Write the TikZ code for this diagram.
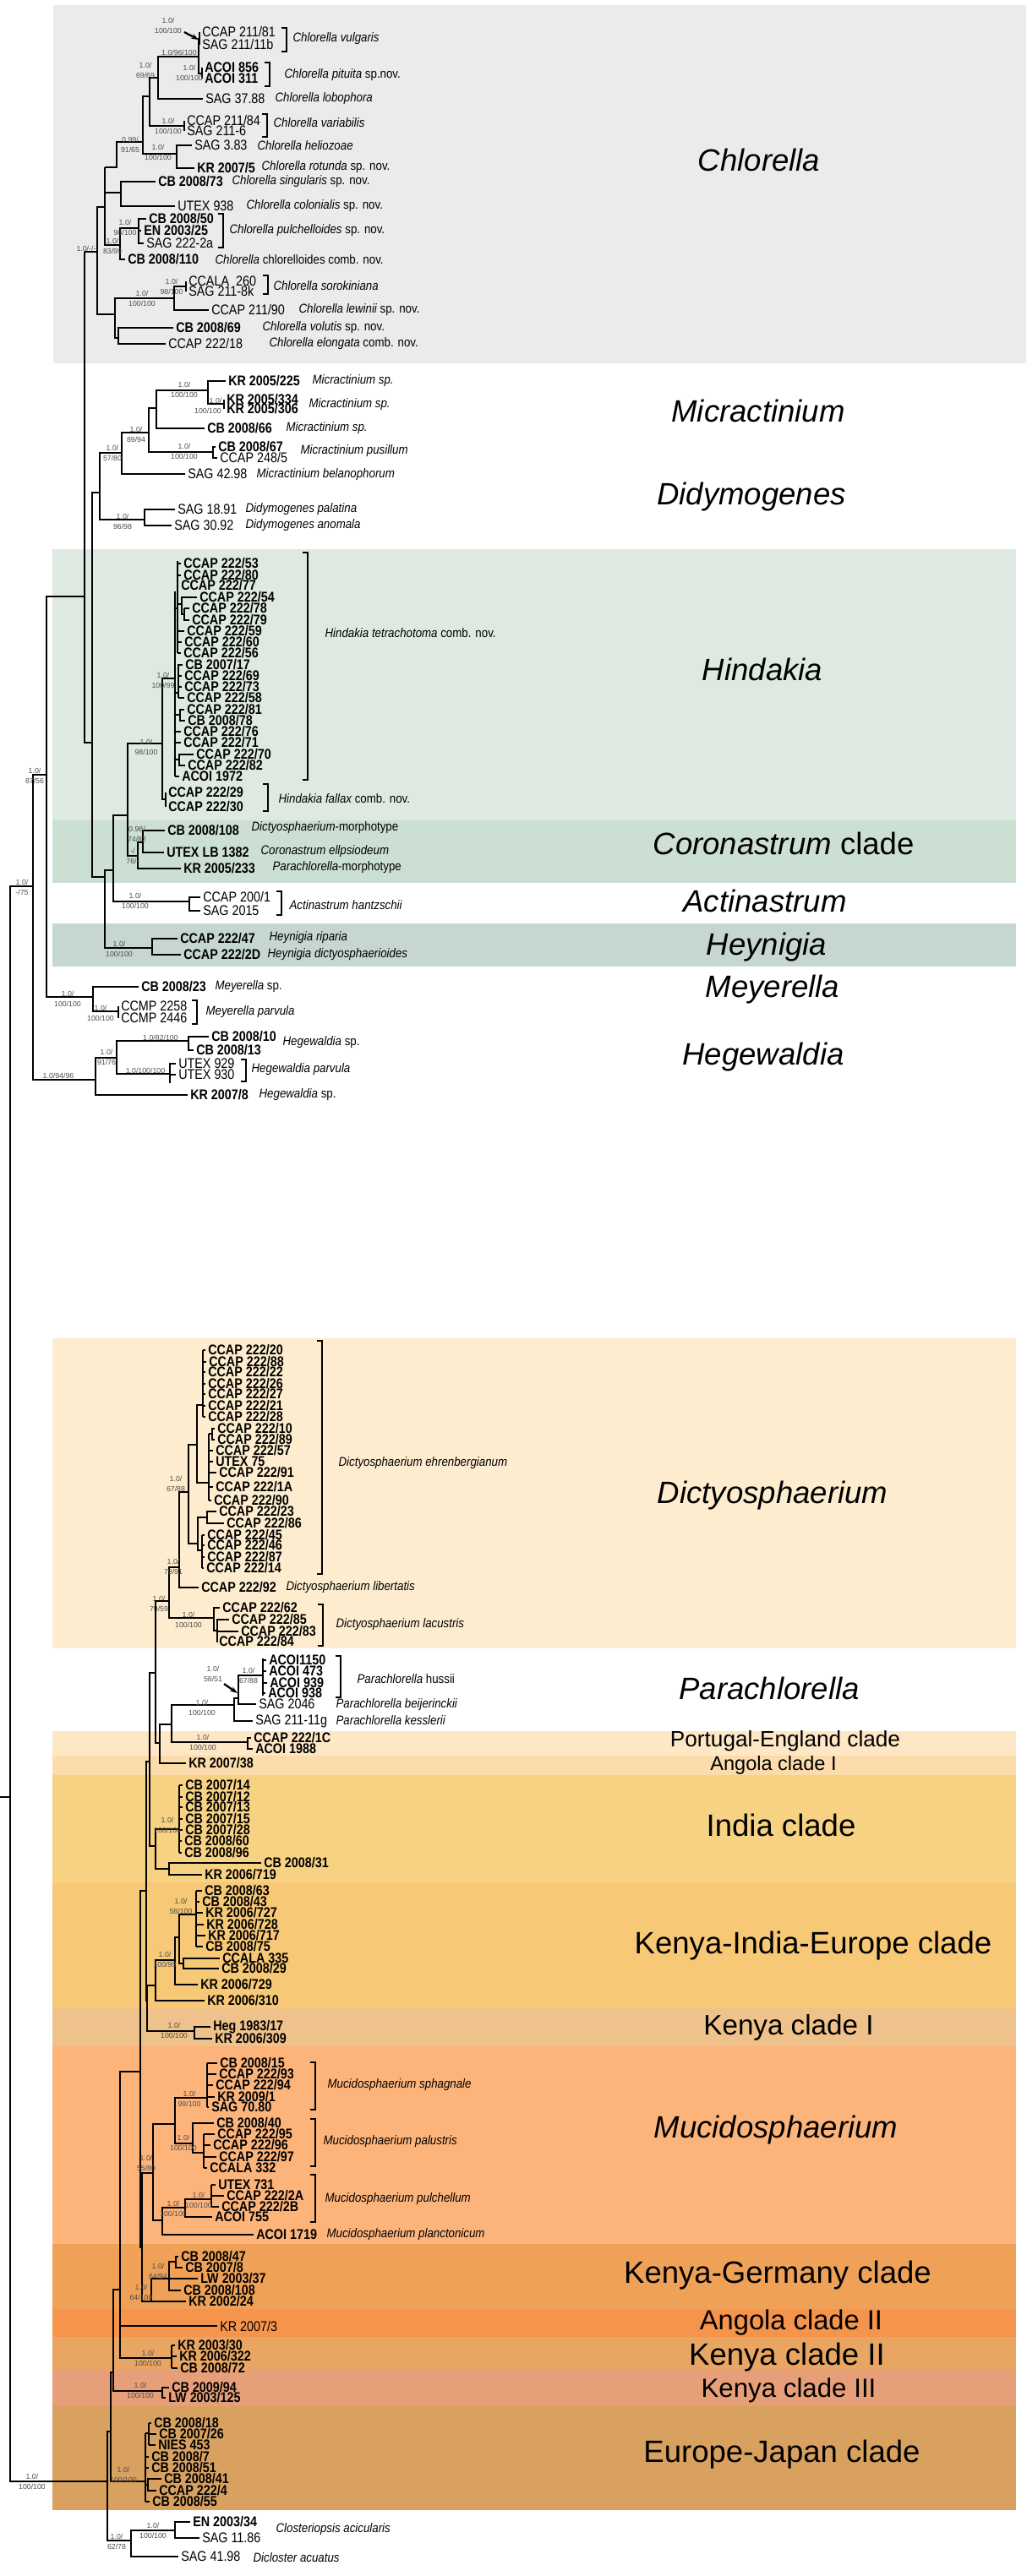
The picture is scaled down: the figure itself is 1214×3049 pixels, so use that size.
\documentclass[tikz,border=0pt]{standalone}
\usepackage{fontspec}
\setmainfont{Liberation Sans}
\newfontfamily\tipfamily[FakeStretch=0.86]{Liberation Sans}
\newfontfamily\spfamily[FakeStretch=0.88]{Liberation Sans}
\usetikzlibrary{arrows.meta}
\usetikzlibrary{positioning}

\definecolor{chlorellabg}{HTML}{EAEBEA}
\definecolor{hindakiabg}{HTML}{DEEAE1}
\definecolor{coronabg}{HTML}{CBDFD3}
\definecolor{heynigiabg}{HTML}{C6D7CF}
\definecolor{dictybg}{HTML}{FEECCE}
\definecolor{portbg}{HTML}{FDE7C4}
\definecolor{angolaIbg}{HTML}{FBDCAA}
\definecolor{indiabg}{HTML}{F8D283}
\definecolor{kiebg}{HTML}{F7C875}
\definecolor{kenyaIbg}{HTML}{EFC28B}
\definecolor{mucidobg}{HTML}{FDB47B}
\definecolor{kgbg}{HTML}{EFA257}
\definecolor{angolaIIbg}{HTML}{F5944A}
\definecolor{kenyaIIbg}{HTML}{E9A662}
\definecolor{kenyaIIIbg}{HTML}{E69F78}
\definecolor{ejbg}{HTML}{D9A160}
\definecolor{supgray}{HTML}{4D4D4D}

\newcommand\tipfont{\fontsize{9.5}{10}\tipfamily}
\newcommand\spfont{\fontsize{8.6}{10}\spfamily\itshape}
\newcommand\supfont{\fontsize{5}{6}\selectfont}
\newcommand\cladefont{\fontsize{20.8}{24}\selectfont}

\tikzset{leaf/.style = {anchor=west, inner xsep=1.5pt, inner ysep=0pt, font=\tipfont},
         bleaf/.style = {leaf, font=\tipfont\bfseries},
         spec/.style = {anchor=west, inner sep=0pt, font=\spfont},
         supp/.style = {inner sep=0pt, font=\supfont, text=supgray},
         clade/.style = {inner sep=0pt, font=\cladefont\itshape},
         cladeup/.style = {inner sep=0pt, font=\cladefont},
         pointer/.style = {line width=1.3pt, -{Stealth[length=5pt,width=3.5pt]}}}

% support values: name, x, y, upper, lower
\newcommand\sv[5]{\node[supp] (#1) at (#2,#3) {#4}; \node[supp] (#1b) at (#2,#3+12) {#5};}
% species bracket
\newcommand\brk[3]{\draw (#1,#2) -- (#1+6,#2) -- (#1+6,#3) -- (#1,#3);}

\begin{document}
\begin{tikzpicture}[x=0.02cm, y=-0.02cm, line width=0.7pt]
  \useasboundingbox (0,0) rectangle (1214,3049);

  % clade bands
  \fill[chlorellabg] (63,6) rectangle (1214,430);
  \foreach \c/\a/\b in {hindakiabg/650/971, coronabg/971/1045, heynigiabg/1093/1144,
      dictybg/1584/1951, portbg/2049/2078, angolaIbg/2078/2101, indiabg/2101/2228,
      kiebg/2228/2377, kenyaIbg/2377/2422, mucidobg/2422/2656, kgbg/2656/2733,
      angolaIIbg/2733/2766, kenyaIIbg/2766/2805, kenyaIIIbg/2805/2848, ejbg/2848/2971}
    \fill[\c] (62,\a) rectangle (1202,\b);

  % clade names
  \node[clade] (lchlorella) at (898,189) {Chlorella};
  \node[clade] (lmicract) at (897,486) {Micractinium};
  \node[clade] (ldidymo) at (889,588) {Didymogenes};
  \node[clade] (lhindakia) at (902,792) {Hindakia};
  \node[cladeup] (lcorona) at (927,998) {\textit{Coronastrum} clade};
  \node[clade] (lactin) at (905,1066) {Actinastrum};
  \node[clade] (lheyn) at (907,1121) {Heynigia};
  \node[clade] (lmeyer) at (914,1171) {Meyerella};
  \node[clade] (lhegew) at (903,1251) {Hegewaldia};
  \node[clade] (ldicty) at (914,1770) {Dictyosphaerium};
  \node[clade] (lparach) at (910,1998) {Parachlorella};
  \node[cladeup, font=\fontsize{14.9}{16}\selectfont] (lportug) at (929,2061) {Portugal-England clade};
  \node[cladeup, font=\fontsize{13.4}{15}\selectfont] (langolaI) at (915,2089) {Angola clade I};
  \node[cladeup] (lindia) at (924,2160) {India clade};
  \node[cladeup] (lkie) at (962,2303) {Kenya-India-Europe clade};
  \node[cladeup, font=\fontsize{18.9}{21}\selectfont] (lkenyaI) at (933,2400) {Kenya clade I};
  \node[clade] (lmucido) at (918,2521) {Mucidosphaerium};
  \node[cladeup] (lkg) at (920,2693) {Kenya-Germany clade};
  \node[cladeup, font=\fontsize{18.6}{21}\selectfont] (langolaII) at (936,2749) {Angola clade II};
  \node[cladeup] (lkenyaII) at (931,2790) {Kenya clade II};
  \node[cladeup, font=\fontsize{17.8}{20}\selectfont] (lkenyaIII) at (933,2829) {Kenya clade III};
  \node[cladeup] (lej) at (925,2905) {Europe-Japan clade};

  % backbone
  \draw (100,298) -- (100,879) -- (109,879);
  \draw (100,706) -- (55,706) -- (55,1180) -- (110,1180);
  \draw (55,917) -- (39,917) -- (39,1278) -- (113,1278);
  \draw (39,1049) -- (12,1049) -- (12,2937) -- (127,2937);
  \draw (0,2127) -- (12,2127);
  \sv{sroot}{26}{1044}{1.0/}{-/75}
  \sv{sbase}{38}{2931}{1.0/}{100/100}

  % Chlorella
  \node[leaf] (c21181) at (236,38) {CCAP 211/81};
  \node[leaf] (s21111b) at (236,53) {SAG 211/11b};
  \node[bleaf] (a856) at (239,80) {ACOI 856};
  \node[bleaf] (a311) at (239,93) {ACOI 311};
  \node[leaf] (s3788) at (240,117) {SAG 37.88};
  \node[leaf] (c21184) at (218,143) {CCAP 211/84};
  \node[leaf] (s2116) at (218,155) {SAG 211-6};
  \node[leaf] (s383) at (227,172) {SAG 3.83};
  \node[bleaf] (k20075) at (230,199) {KR 2007/5};
  \node[bleaf] (cb200873) at (184,215) {CB 2008/73};
  \node[leaf] (u938) at (207,244) {UTEX 938};
  \node[bleaf] (cb200850) at (173,259) {CB 2008/50};
  \node[bleaf] (en200325) at (167,273) {EN 2003/25};
  \node[leaf] (s2222a) at (170,288) {SAG 222-2a};
  \node[bleaf] (cb2008110) at (148,307) {CB 2008/110};
  \node[leaf] (ccala260) at (220,333) {CCALA\ \ 260};
  \node[leaf] (s2118k) at (220,345) {SAG 211-8k};
  \node[leaf] (c21190) at (247,367) {CCAP 211/90};
  \node[bleaf] (cb200869) at (205,388) {CB 2008/69};
  \node[leaf] (c22218) at (196,407) {CCAP 222/18};

  \draw (c21181.west) -- (s21111b.west);
  \draw (236,46) -- (235,46) -- (235,87) -- (239,87);
  \draw (a856.west) -- (a311.west);
  \draw (235,67) -- (187,67) -- (187,117) -- (s3788.west);
  \draw (187,92) -- (177,92) -- (177,149) -- (218,149);
  \draw (c21184.west) -- (s2116.west);
  \draw (177,114) -- (169,114) -- (169,182) -- (209,182);
  \draw (s383.west) -- (209,172) -- (209,199) -- (k20075.west);
  \draw (169,168) -- (138,168) -- (138,198) -- (124,198);
  \draw (cb200873.west) -- (143,215) -- (143,244) -- (u938.west);
  \draw (143,228) -- (124,228);
  \draw (124,198) -- (124,290) -- (142,290);
  \draw (cb200850.west) -- (164,259) -- (164,288) -- (s2222a.west);
  \draw (164,273) -- (en200325.west);
  \draw (164,270) -- (142,270) -- (142,307) -- (cb2008110.west);
  \draw (124,245) -- (115,245) -- (115,372) -- (136,372);
  \draw (100,298) -- (115,298);
  \draw (ccala260.west) -- (s2118k.west);
  \draw (220,339) -- (206,339) -- (206,367) -- (c21190.west);
  \draw (206,353) -- (136,353) -- (136,400) -- (140,400);
  \draw (cb200869.west) -- (140,388) -- (140,407) -- (c22218.west);

  \node[spec] (tvulg) at (346,46) {Chlorella vulgaris};
  \brk{333}{33}{61}
  \node[spec] (tpit) at (336,89) {Chlorella pituita {\upshape sp.nov.}};
  \brk{313}{74}{102}
  \node[spec] (tlob) at (325,117) {Chlorella lobophora};
  \node[spec] (tvar) at (323,145) {Chlorella variabilis};
  \brk{310}{135}{162}
  \node[spec] (thel) at (304,172) {Chlorella heliozoae};
  \node[spec] (trot) at (309,198) {Chlorella rotunda {\upshape sp. nov.}};
  \node[spec] (tsing) at (274,215) {Chlorella singularis {\upshape sp. nov.}};
  \node[spec] (tcol) at (291,244) {Chlorella colonialis {\upshape sp. nov.}};
  \node[spec] (tpul) at (271,273) {Chlorella pulchelloides {\upshape sp. nov.}};
  \brk{258}{253}{293}
  \node[spec] (tchl) at (254,307) {Chlorella {\upshape chlorelloides comb. nov.}};
  \node[spec] (tsor) at (323,338) {Chlorella sorokiniana};
  \brk{311}{326}{348}
  \node[spec] (tlew) at (353,367) {Chlorella lewinii {\upshape sp. nov.}};
  \node[spec] (tvol) at (310,388) {Chlorella volutis {\upshape sp. nov.}};
  \node[spec] (telo) at (318,407) {Chlorella elongata {\upshape comb. nov.}};

  \sv{s1}{199}{24}{1.0/}{100/100}
  \draw[pointer] (218,38) -- (235,47);
  \node[supp] (s2) at (212,62) {1.0/96/100};
  \sv{s3}{172}{77}{1.0/}{69/69}
  \sv{s4}{224}{80}{1.0/}{100/100}
  \sv{s5}{199}{143}{1.0/}{100/100}
  \sv{s6}{154}{165}{0.99/}{91/65}
  \sv{s7}{187}{174}{1.0/}{100/100}
  \sv{s8}{148}{263}{1.0/}{98/100}
  \sv{s9}{133}{285}{1.0/}{83/99}
  \node[supp] (s10) at (102,294) {1.0/-/-};
  \sv{s11}{203}{333}{1.0/}{98/100}
  \sv{s12}{168}{347}{1.0/}{100/100}

  % Micractinium, Didymogenes
  \node[bleaf] (k2005225) at (267,451) {KR 2005/225};
  \node[bleaf] (k2005334) at (265,473) {KR 2005/334};
  \node[bleaf] (k2005306) at (265,484) {KR 2005/306};
  \node[bleaf] (cb200866) at (242,507) {CB 2008/66};
  \node[bleaf] (cb200867) at (255,529) {CB 2008/67};
  \node[leaf] (c2485) at (257,542) {CCAP 248/5};
  \node[leaf] (s4298) at (219,561) {SAG 42.98};
  \node[leaf] (s1891) at (207,603) {SAG 18.91};
  \node[leaf] (s3092) at (203,622) {SAG 30.92};

  \draw (k2005225.west) -- (246,451) -- (246,478) -- (265,478);
  \draw (k2005334.west) -- (k2005306.west);
  \draw (246,462) -- (185,462) -- (185,507) -- (cb200866.west);
  \draw (185,483) -- (176,483) -- (176,535) -- (252,535);
  \draw (cb200867.west) -- (252,529) -- (252,542) -- (c2485.west);
  \draw (176,512) -- (144,512) -- (144,561) -- (s4298.west);
  \draw (144,536) -- (118,536) -- (118,615) -- (171,615);
  \draw (s1891.west) -- (171,603) -- (171,622) -- (s3092.west);
  \draw (118,583) -- (109,583) -- (109,1038) -- (124,1038);

  \node[spec] (tmic1) at (369,451) {Micractinium sp.};
  \node[spec] (tmic2) at (365,479) {Micractinium sp.};
  \node[spec] (tmic3) at (338,507) {Micractinium sp.};
  \node[spec] (tpus) at (355,534) {Micractinium pusillum};
  \node[spec] (tbel) at (303,562) {Micractinium belanophorum};
  \node[spec] (tpal) at (290,603) {Didymogenes palatina};
  \node[spec] (tano) at (290,622) {Didymogenes anomala};

  \sv{s13}{218}{455}{1.0/}{100/100}
  \node[supp] (s14) at (255,474) {1.0/};
  \node[supp] (s14b) at (246,486) {100/100};
  \sv{s15}{161}{508}{1.0/}{89/94}
  \sv{s16}{218}{528}{1.0/}{100/100}
  \sv{s17}{133}{530}{1.0/}{57/80}
  \sv{s18}{145}{611}{1.0/}{96/98}

  % Hindakia
  \draw (192,880) -- (151,880) -- (151,1013) -- (163,1013);
  \draw (151,965) -- (134,965) -- (134,1067) -- (224,1067);
  \draw (134,1030) -- (124,1030) -- (124,1122) -- (180,1122);
  \draw (207,803) -- (192,803) -- (192,946) -- (196,946);
  \draw (207,700) -- (207,919);
  \draw (207,720) -- (210,720);
  \draw (210,664) -- (210,773);
  \foreach \n/\x/\y in {53/214/667, 80/214/681, 77/211/693, 59/218/747, 60/215/760, 56/214/773} {
    \node[bleaf] (h\n) at (\x,\y) {CCAP 222/\n};
    \draw (210,\y) -- (h\n.west);
  }
  \node[bleaf] (h54) at (233,707) {CCAP 222/54};
  \node[bleaf] (h78) at (224,720) {CCAP 222/78};
  \node[bleaf] (h79) at (224,734) {CCAP 222/79};
  \draw (210,715) -- (215,715);
  \draw (h54.west) -- (215,707) -- (215,727) -- (218,727);
  \draw (218,720) -- (h78.west);
  \draw (218,720) -- (218,734) -- (h79.west);
  \node[bleaf] (hcb17) at (216,787) {CB 2007/17};
  \foreach \n/\x/\y in {69/215/800, 73/215/813, 58/218/826} {
    \node[bleaf] (h\n) at (\x,\y) {CCAP 222/\n};
    \draw (211,\y) -- (h\n.west);
  }
  \draw (207,820) -- (211,820);
  \draw (hcb17.west) -- (211,787) -- (211,826);
  \node[bleaf] (h81) at (218,840) {CCAP 222/81};
  \node[bleaf] (hcb78) at (219,853) {CB 2008/78};
  \draw (207,846) -- (213,846);
  \draw (h81.west) -- (213,840) -- (213,853) -- (hcb78.west);
  \foreach \n/\y in {76/866, 71/879} {
    \node[bleaf] (h\n) at (214,\y) {CCAP 222/\n};
    \draw (207,\y) -- (h\n.west);
  }
  \node[bleaf] (h70) at (229,893) {CCAP 222/70};
  \node[bleaf] (h82) at (219,906) {CCAP 222/82};
  \draw (207,899) -- (212,899);
  \draw (h70.west) -- (212,893) -- (212,906) -- (h82.west);
  \node[bleaf] (ha1972) at (212,919) {ACOI 1972};
  \draw (207,919) -- (ha1972.west);
  \node[bleaf] (h29) at (196,938) {CCAP 222/29};
  \node[bleaf] (h30) at (196,955) {CCAP 222/30};
  \draw (h29.west) -- (h30.west);

  \node[spec] (ttet) at (384,749) {Hindakia tetrachotoma {\upshape comb. nov.}};
  \brk{358}{654}{923}
  \node[spec] (tfal) at (329,945) {Hindakia fallax {\upshape comb. nov.}};
  \brk{311}{928}{960}
  \sv{s19}{193}{799}{1.0/}{100/99}
  \sv{s20}{173}{878}{1.0/}{98/100}
  \sv{s21}{41}{912}{1.0/}{87/56}

  % Coronastrum clade, Actinastrum, Heynigia
  \node[bleaf] (cb2008108) at (195,983) {CB 2008/108};
  \node[bleaf] (utex1382) at (194,1009) {UTEX LB 1382};
  \node[bleaf] (kr2005233) at (214,1028) {KR 2005/233};
  \draw (169,997) -- (163,997) -- (163,1028) -- (kr2005233.west);
  \draw (cb2008108.west) -- (169,983) -- (169,1009) -- (utex1382.west);
  \node[spec] (tdm) at (297,980) {Dictyosphaerium{\upshape -morphotype}};
  \node[spec] (tcor) at (308,1008) {Coronastrum ellpsiodeum};
  \node[spec] (tpm) at (322,1027) {Parachlorella{\upshape -morphotype}};
  \sv{s22}{162}{981}{0.98/}{74/82}
  \sv{s23}{157}{1007}{-/}{76/-}

  \node[leaf] (c2001) at (237,1062) {CCAP 200/1};
  \node[leaf] (s2015) at (237,1078) {SAG 2015};
  \draw (c2001.west) -- (224,1062) -- (224,1078) -- (s2015.west);
  \node[spec] (thant) at (342,1071) {Actinastrum hantzschii};
  \brk{327}{1055}{1083}
  \sv{s24}{160}{1060}{1.0/}{100/100}

  \node[bleaf] (c22247) at (210,1111) {CCAP 222/47};
  \node[bleaf] (c2222d) at (214,1130) {CCAP 222/2D};
  \draw (c22247.west) -- (180,1111) -- (180,1130) -- (c2222d.west);
  \node[spec] (trip) at (318,1110) {Heynigia riparia};
  \node[spec] (tdic) at (316,1130) {Heynigia dictyosphaerioides};
  \sv{s25}{141}{1117}{1.0/}{100/100}

  % Meyerella
  \node[bleaf] (cb200823) at (164,1168) {CB 2008/23};
  \node[leaf] (ccmp2258) at (140,1191) {CCMP 2258};
  \node[leaf] (ccmp2446) at (140,1205) {CCMP 2446};
  \draw (cb200823.west) -- (110,1168) -- (110,1197) -- (140,1197);
  \draw (ccmp2258.west) -- (ccmp2446.west);
  \node[spec] (tmey) at (254,1168) {Meyerella {\upshape sp.}};
  \node[spec] (tmpar) at (243,1198) {Meyerella parvula};
  \brk{227}{1184}{1212}
  \sv{s26}{80}{1176}{1.0/}{100/100}
  \sv{s27}{119}{1193}{1.0/}{100/100}

  % Hegewaldia
  \node[bleaf] (cb200810) at (247,1227) {CB 2008/10};
  \node[bleaf] (cb200813) at (229,1243) {CB 2008/13};
  \node[leaf] (utex929) at (208,1259) {UTEX 929};
  \node[leaf] (utex930) at (208,1272) {UTEX 930};
  \node[bleaf] (kr20078) at (222,1296) {KR 2007/8};
  \draw (cb200810.west) -- (223,1227) -- (223,1243) -- (cb200813.west);
  \draw (223,1232) -- (138,1232) -- (138,1271) -- (201,1271);
  \draw (201,1258) -- (201,1282);
  \draw (201,1259) -- (utex929.west);
  \draw (201,1272) -- (utex930.west);
  \draw (138,1252) -- (113,1252) -- (113,1296) -- (kr20078.west);
  \node[spec] (theg1) at (334,1234) {Hegewaldia {\upshape sp.}};
  \node[spec] (thpar) at (297,1266) {Hegewaldia parvula};
  \brk{285}{1254}{1280}
  \node[spec] (theg2) at (306,1296) {Hegewaldia {\upshape sp.}};
  \node[supp] (s28) at (190,1228) {1.0/82/100};
  \sv{s29}{126}{1245}{1.0/}{91/76}
  \node[supp] (s30) at (172,1267) {1.0/100/100};
  \node[supp] (s31) at (69,1273) {1.0/94/96};

  % Dictyosphaerium
  \draw (240,1598) -- (240,1677);
  \foreach \n/\x/\y in {20/243/1598, 88/244/1612, 22/243/1624, 26/243/1638, 27/243/1650, 21/243/1664, 28/243/1677} {
    \node[bleaf] (d\n) at (\x,\y) {CCAP 222/\n};
    \draw (240,\y) -- (d\n.west);
  }
  \draw (247,1697) -- (247,1776);
  \node[bleaf] (d10) at (254,1691) {CCAP 222/10};
  \node[bleaf] (d89) at (254,1704) {CCAP 222/89};
  \draw (247,1697) -- (251,1697);
  \draw (d10.west) -- (251,1691) -- (251,1704) -- (d89.west);
  \node[bleaf] (dutex75) at (252,1730) {UTEX 75};
  \draw (247,1730) -- (dutex75.west);
  \foreach \n/\x/\y in {57/252/1717, 91/256/1743, 1A/252/1760, 90/250/1776} {
    \node[bleaf] (d\n) at (\x,\y) {CCAP 222/\n};
    \draw (247,\y) -- (d\n.west);
  }
  \draw (247,1755) -- (233,1755) -- (233,1663) -- (240,1663);
  \draw (233,1710) -- (223,1710) -- (223,1827) -- (234,1827);
  \node[bleaf] (d23) at (256,1789) {CCAP 222/23};
  \node[bleaf] (d86) at (265,1803) {CCAP 222/86};
  \draw (d23.west) -- (245,1789) -- (245,1803) -- (d86.west);
  \draw (245,1796) -- (234,1796) -- (234,1835) -- (239,1835);
  \draw (239,1817) -- (239,1856);
  \foreach \n/\x/\y in {45/242/1817, 46/242/1829, 87/242/1843, 14/241/1856} {
    \node[bleaf] (d\n) at (\x,\y) {CCAP 222/\n};
    \draw (239,\y) -- (d\n.west);
  }
  \node[bleaf] (d92) at (235,1879) {CCAP 222/92};
  \draw (223,1766) -- (212,1766) -- (212,1879) -- (d92.west);
  \draw (212,1855) -- (200,1855) -- (200,1915) -- (253,1915);
  \node[spec] (tehr) at (400,1732) {Dictyosphaerium ehrenbergianum};
  \brk{375}{1587}{1863}
  \node[spec] (tlib) at (338,1879) {Dictyosphaerium libertatis};
  \sv{s32}{208}{1750}{1.0/}{67/88}
  \sv{s33}{205}{1848}{1.0/}{79/91}

  \node[bleaf] (d62) at (260,1903) {CCAP 222/62};
  \node[bleaf] (d85) at (271,1917) {CCAP 222/85};
  \node[bleaf] (d83) at (282,1931) {CCAP 222/83};
  \node[bleaf] (d84) at (256,1943) {CCAP 222/84};
  \draw (d62.west) -- (253,1903) -- (253,1930) -- (257,1930);
  \draw (d85.west) -- (257,1917) -- (257,1943) -- (d84.west);
  \draw (257,1931) -- (d83.west);
  \node[spec] (tlac) at (397,1923) {Dictyosphaerium lacustris};
  \brk{376}{1899}{1948}
  \sv{s34}{223}{1911}{1.0/}{100/100}
  \sv{s35}{188}{1892}{1.0/}{79/59}

  % Parachlorella
  \draw (311,1963) -- (311,2007);
  \node[bleaf] (p1150) at (315,1965) {ACOI1150};
  \draw (311,1965) -- (p1150.west);
  \foreach \n/\x/\y in {473/315/1978, 939/316/1992, 938/314/2004} {
    \node[bleaf] (p\n) at (\x,\y) {ACOI \n};
    \draw (311,\y) -- (p\n.west);
  }
  \node[leaf] (s2046) at (303,2017) {SAG 2046};
  \node[leaf] (s21111g) at (299,2037) {SAG 211-11g};
  \node[bleaf] (c2221c) at (297,2057) {CCAP 222/1C};
  \node[bleaf] (a1988) at (299,2070) {ACOI 1988};
  \node[bleaf] (kr200738) at (220,2087) {KR 2007/38};
  \draw (311,1983) -- (282,1983) -- (282,2017) -- (s2046.west);
  \draw (282,2010) -- (277,2010) -- (277,2037) -- (s21111g.west);
  \draw (277,2018) -- (203,2018) -- (203,2062) -- (293,2062);
  \draw (c2221c.west) -- (293,2057) -- (293,2070) -- (a1988.west);
  \draw (203,2041) -- (189,2041) -- (189,2087) -- (kr200738.west);
  \draw (189,2063) -- (184,2063) -- (184,1895) -- (200,1895);
  \draw (184,1980) -- (177,1980) -- (177,2185) -- (184,2185);
  \node[spec] (thus) at (422,1987) {Parachlorella {\upshape hussii}};
  \brk{397}{1960}{2009}
  \node[spec] (tbei) at (397,2018) {Parachlorella beijerinckii};
  \node[spec] (tkes) at (397,2036) {Parachlorella kesslerii};
  \sv{s36}{252}{1975}{1.0/}{58/51}
  \draw[pointer] (265,1993) -- (281,2004);
  \sv{s37}{294}{1977}{1.0/}{67/88}
  \sv{s38}{239}{2015}{1.0/}{100/100}
  \sv{s39}{240}{2056}{1.0/}{100/100}

  % India clade
  \draw (212,2113) -- (212,2193);
  \foreach \n/\y in {14/2113, 12/2127, 13/2139, 15/2153, 28/2166} {
    \node[bleaf] (i7\n) at (216,\y) {CB 2007/\n};
    \draw (212,\y) -- (i7\n.west);
  }
  \foreach \n/\y in {60/2179, 96/2193} {
    \node[bleaf] (i8\n) at (215,\y) {CB 2008/\n};
    \draw (212,\y) -- (i8\n.west);
  }
  \node[bleaf] (cb200831) at (309,2205) {CB 2008/31};
  \node[bleaf] (kr2006719) at (239,2219) {KR 2006/719};
  \draw (212,2165) -- (184,2165) -- (184,2212) -- (200,2212);
  \draw (cb200831.west) -- (200,2205) -- (200,2219) -- (kr2006719.west);
  \sv{s40}{198}{2154}{1.0/}{100/100}
  \draw (177,2085) -- (173,2085) -- (173,2368) -- (174,2368);

  % Kenya-India-Europe clade, Kenya clade I
  \draw (232,2238) -- (232,2304);
  \foreach \n/\x/\y in {63/239/2238, 43/236/2251, 75/240/2304} {
    \node[bleaf] (k8\n) at (\x,\y) {CB 2008/\n};
    \draw (232,\y) -- (k8\n.west);
  }
  \foreach \n/\x/\y in {727/240/2264, 728/241/2278, 717/243/2291} {
    \node[bleaf] (k6\n) at (\x,\y) {KR 2006/\n};
    \draw (232,\y) -- (k6\n.west);
  }
  \node[bleaf] (ccala335) at (260,2318) {CCALA 335};
  \node[bleaf] (cb200829) at (259,2330) {CB 2008/29};
  \node[bleaf] (kr2006729) at (234,2349) {KR 2006/729};
  \node[bleaf] (kr2006310) at (242,2368) {KR 2006/310};
  \draw (232,2266) -- (212,2266) -- (212,2324) -- (217,2324);
  \draw (ccala335.west) -- (217,2318) -- (217,2330) -- (cb200829.west);
  \draw (212,2293) -- (207,2293) -- (207,2349) -- (kr2006729.west);
  \draw (207,2320) -- (184,2320) -- (184,2368) -- (kr2006310.west);
  \draw (184,2350) -- (174,2350) -- (174,2404) -- (230,2404);
  \sv{s41}{214}{2250}{1.0/}{58/100}
  \sv{s42}{195}{2313}{1.0/}{100/99}

  \node[bleaf] (heg198317) at (249,2399) {Heg 1983/17};
  \node[bleaf] (kr2006309) at (251,2413) {KR 2006/309};
  \draw (heg198317.west) -- (230,2399) -- (230,2413) -- (kr2006309.west);
  \sv{s43}{206}{2397}{1.0/}{100/100}
  \draw (173,2238) -- (166,2238) -- (166,2660) -- (168,2660);

  % Mucidosphaerium
  \draw (245,2442) -- (245,2494);
  \node[bleaf] (m200815) at (257,2442) {CB 2008/15};
  \node[bleaf] (m93) at (256,2455) {CCAP 222/93};
  \node[bleaf] (m94) at (252,2468) {CCAP 222/94};
  \node[bleaf] (m20091) at (254,2482) {KR 2009/1};
  \node[bleaf] (m7080) at (247,2494) {SAG 70.80};
  \foreach \m in {m200815, m93, m94, m20091, m7080}
    \draw (\m.west) -- (245,0 |- \m.west);
  \node[bleaf] (m200840) at (253,2513) {CB 2008/40};
  \node[bleaf] (m95) at (254,2526) {CCAP 222/95};
  \node[bleaf] (m96) at (249,2539) {CCAP 222/96};
  \node[bleaf] (m97) at (256,2553) {CCAP 222/97};
  \node[bleaf] (m332) at (245,2566) {CCALA 332};
  \draw (241,2526) -- (241,2566);
  \foreach \m in {m95, m96, m97, m332}
    \draw (\m.west) -- (241,0 |- \m.west);
  \draw (m200840.west) -- (228,2513) -- (228,2548) -- (241,2548);
  \draw (245,2483) -- (207,2483) -- (207,2537) -- (228,2537);
  \node[bleaf] (m731) at (255,2586) {UTEX 731};
  \node[bleaf] (m2a) at (265,2599) {CCAP 222/2A};
  \node[bleaf] (m2b) at (259,2612) {CCAP 222/2B};
  \node[bleaf] (m755) at (251,2624) {ACOI 755};
  \node[bleaf] (m1719) at (300,2645) {ACOI 1719};
  \draw (250,2586) -- (250,2612);
  \foreach \m in {m731, m2a, m2b}
    \draw (\m.west) -- (250,0 |- \m.west);
  \draw (250,2603) -- (219,2603) -- (219,2624) -- (m755.west);
  \draw (207,2514) -- (181,2514) -- (181,2628) -- (192,2628);
  \draw (219,2613) -- (192,2613) -- (192,2645) -- (m1719.west);
  \draw (181,2572) -- (168,2572) -- (168,2724) -- (179,2724);
  \node[spec] (tsph) at (387,2468) {Mucidosphaerium sphagnale};
  \brk{367}{2441}{2497}
  \node[spec] (tpalu) at (382,2535) {Mucidosphaerium palustris};
  \brk{367}{2508}{2564}
  \node[spec] (tpulc) at (384,2603) {Mucidosphaerium pulchellum};
  \brk{367}{2574}{2630}
  \node[spec] (tplan) at (386,2645) {Mucidosphaerium planctonicum};
  \sv{s44}{224}{2478}{1.0/}{99/100}
  \sv{s45}{217}{2530}{1.0/}{100/100}
  \sv{s46}{173}{2554}{1.0/}{55/80}
  \sv{s47}{235}{2598}{1.0/}{100/100}
  \sv{s48}{205}{2608}{1.0/}{100/100}

  % Kenya-Germany clade
  \node[bleaf] (g200847) at (211,2671) {CB 2008/47};
  \node[bleaf] (g20078) at (216,2684) {CB 2007/8};
  \node[bleaf] (g200337) at (234,2697) {LW 2003/37};
  \node[bleaf] (g2008108) at (214,2711) {CB 2008/108};
  \node[bleaf] (g200224) at (220,2724) {KR 2002/24};
  \draw (g200847.west) -- (208,2671) -- (208,2684) -- (g20078.west);
  \draw (208,2677) -- (200,2677) -- (200,2711) -- (g2008108.west);
  \draw (g200337.west) -- (179,2697) -- (179,2724) -- (g200224.west);
  \sv{s49}{187}{2682}{1.0/}{64/94}
  \sv{s50}{167}{2707}{1.0/}{64/100}

  % Angola clade II, Kenya clades II and III
  \draw (166,2452) -- (142,2452) -- (142,2791) -- (203,2791);
  \node[leaf] (kr20073) at (257,2753) {KR 2007/3};
  \draw (142,2753) -- (kr20073.west);
  \node[bleaf] (kr200330) at (207,2776) {KR 2003/30};
  \node[bleaf] (kr2006322) at (209,2789) {KR 2006/322};
  \node[bleaf] (cb200872) at (210,2803) {CB 2008/72};
  \draw (203,2776) -- (203,2803);
  \foreach \m in {kr200330, kr2006322, cb200872}
    \draw (\m.west) -- (203,0 |- \m.west);
  \sv{s51}{175}{2785}{1.0/}{100/100}
  \draw (142,2710) -- (134,2710) -- (134,2830) -- (192,2830);
  \node[bleaf] (cb200994) at (200,2826) {CB 2009/94};
  \node[bleaf] (lw2003125) at (196,2838) {LW 2003/125};
  \draw (cb200994.west) -- (192,2826) -- (192,2838) -- (lw2003125.west);
  \sv{s52}{166}{2823}{1.0/}{100/100}

  % Europe-Japan clade
  \draw (134,2808) -- (131,2808) -- (131,2937) -- (172,2937);
  \draw (131,2878) -- (127,2878) -- (127,3007) -- (155,3007);
  \draw (172,2880) -- (172,2961);
  \draw (172,2880) -- (176,2880);
  \draw (176,2868) -- (176,2894);
  \node[bleaf] (e200818) at (179,2868) {CB 2008/18};
  \node[bleaf] (e200726) at (185,2881) {CB 2007/26};
  \node[bleaf] (e453) at (184,2894) {NIES 453};
  \foreach \m in {e200818, e200726, e453}
    \draw (\m.west) -- (176,0 |- \m.west);
  \node[bleaf] (e20087) at (176,2908) {CB 2008/7};
  \node[bleaf] (e200851) at (176,2921) {CB 2008/51};
  \node[bleaf] (e200855) at (177,2961) {CB 2008/55};
  \foreach \m in {e20087, e200851, e200855}
    \draw (\m.west) -- (172,0 |- \m.west);
  \node[bleaf] (e200841) at (191,2934) {CB 2008/41};
  \node[bleaf] (e2224) at (185,2948) {CCAP 222/4};
  \draw (172,2941) -- (175,2941);
  \draw (e200841.west) -- (175,2934) -- (175,2948) -- (e2224.west);
  \sv{s53}{146}{2923}{1.0/}{100/100}

  % outgroup
  \node[bleaf] (en200334) at (225,2985) {EN 2003/34};
  \node[leaf] (s1186) at (236,3004) {SAG 11.86};
  \node[leaf] (s4198) at (211,3026) {SAG 41.98};
  \draw (en200334.west) -- (207,2985) -- (207,3004) -- (s1186.west);
  \draw (207,2995) -- (155,2995) -- (155,3026) -- (s4198.west);
  \node[spec] (tclo) at (326,2994) {Closteriopsis acicularis};
  \node[spec] (tdcl) at (299,3027) {Dicloster acuatus};
  \sv{s54}{181}{2989}{1.0/}{100/100}
  \sv{s55}{138}{3002}{1.0/}{62/78}
\end{tikzpicture}
\end{document}
